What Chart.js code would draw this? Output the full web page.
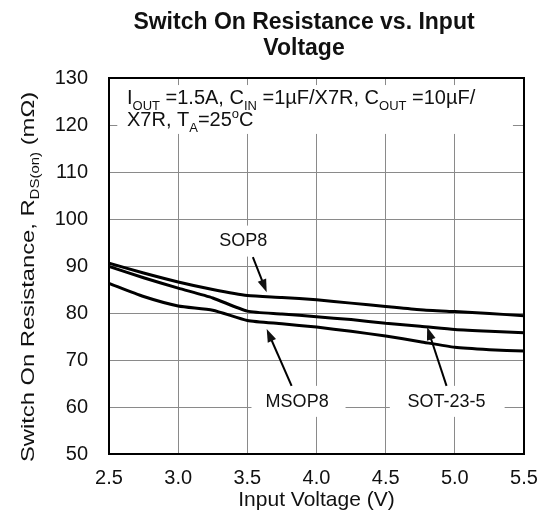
<!DOCTYPE html>
<html>
<head>
<meta charset="utf-8">
<script src="https://cdn.jsdelivr.net/npm/chart.js@4.4.0/dist/chart.umd.min.js"></script>
<style>
  body { margin: 0; background: #fff; }
</style>
</head>
<body>
<canvas id="chart" width="542" height="518"></canvas>
<script>
// values (mOhm)
const voltage = [2.5, 2.75, 3.0, 3.25, 3.5, 3.75, 4.0, 4.25, 4.5, 4.75, 5.0, 5.25, 5.5];
const sop8    = [90.6, 88.5, 86.6, 85.0, 83.7, 83.3, 82.8, 82.1, 81.4, 80.7, 80.3, 79.9, 79.4];
const sot23   = [89.9, 87.5, 85.3, 83.2, 80.4, 79.8, 79.2, 78.6, 77.8, 77.2, 76.5, 76.1, 75.8];
const msop8   = [86.3, 83.5, 81.5, 80.6, 78.4, 77.7, 77.0, 76.1, 75.1, 73.9, 72.7, 72.2, 71.9];

const titleLines = ['Switch On Resistance vs. Input', 'Voltage'];
const seriesNames = ['SOP8', 'SOT-23-5', 'MSOP8'];

// callouts, in data units: label centre, white patch, arrow tail -> tip
const callouts = [
  { text: 'SOP8',     at: [3.47, 95.3], patch: [3.19, 3.74, 98.6, 92.0], from: [3.54, 91.9], to: [3.64, 84.4] },
  { text: 'MSOP8',    at: [3.86, 61.1], patch: [3.53, 4.21, 64.5, 57.9], from: [3.82, 64.5], to: [3.64, 76.6] },
  { text: 'SOT-23-5', at: [4.94, 61.1], patch: [4.53, 5.36, 64.5, 57.9], from: [4.94, 64.5], to: [4.80, 77.0] }
];
// conditions box
const noteBox = [2.56, 5.42, 128.5, 118.1];

const SUB = 'sub', SUP = 'sup', N = 'n';
const noteLine1 = [['I', N], ['OUT', SUB], [' =1.5A, C', N], ['IN', SUB], [' =1\u00b5F/X7R, C', N], ['OUT', SUB], [' =10\u00b5F/', N]];
const noteLine2 = [['X7R, T', N], ['A', SUB], ['=25', N], ['o', SUP], ['C', N]];
const yTitle = [['Switch On Resistance, R', N], ['DS(on)', SUB], [' (m\u03a9)', N]];

function runFont(kind, size) {
  const s = kind === N ? size : Math.round(size * 0.65);
  return s + 'px "Liberation Sans", Arial, sans-serif';
}
function runsWidth(ctx, runs, size) {
  let w = 0;
  runs.forEach(r => { ctx.font = runFont(r[1], size); w += ctx.measureText(r[0]).width; });
  return w;
}
function drawRuns(ctx, runs, x, y, size) {
  ctx.textAlign = 'left';
  ctx.textBaseline = 'alphabetic';
  runs.forEach(r => {
    ctx.font = runFont(r[1], size);
    let dy = 0;
    if (r[1] === SUB) dy = size * 0.28;
    if (r[1] === SUP) dy = -size * 0.38;
    ctx.fillText(r[0], x, y + dy);
    x += ctx.measureText(r[0]).width;
  });
}
function arrow(ctx, x0, y0, x1, y1) {
  const a = Math.atan2(y1 - y0, x1 - x0);
  const len = 13, half = 4.5;
  ctx.beginPath();
  ctx.moveTo(x0, y0);
  ctx.lineTo(x1 - Math.cos(a) * len * 0.8, y1 - Math.sin(a) * len * 0.8);
  ctx.stroke();
  ctx.beginPath();
  ctx.moveTo(x1, y1);
  ctx.lineTo(x1 - Math.cos(a) * len - Math.sin(a) * half, y1 - Math.sin(a) * len + Math.cos(a) * half);
  ctx.lineTo(x1 - Math.cos(a) * len + Math.sin(a) * half, y1 - Math.sin(a) * len - Math.cos(a) * half);
  ctx.closePath();
  ctx.fill();
}

const decorations = {
  id: 'decorations',
  beforeDatasetsDraw(chart) {
    const { ctx, scales: { x, y } } = chart;
    ctx.save();
    ctx.fillStyle = '#fff';
    [noteBox].concat(callouts.map(c => c.patch)).forEach(b => {
      const x0 = x.getPixelForValue(b[0]), x1 = x.getPixelForValue(b[1]);
      const y0 = y.getPixelForValue(b[2]), y1 = y.getPixelForValue(b[3]);
      ctx.fillRect(x0, y0, x1 - x0, y1 - y0);
    });
    ctx.restore();
  },
  afterDraw(chart) {
    const { ctx, chartArea: area, scales: { x, y } } = chart;
    ctx.save();
    ctx.fillStyle = '#111';
    ctx.strokeStyle = '#000';

    // frame
    ctx.lineWidth = 2;
    ctx.strokeRect(area.left, area.top, area.right - area.left, area.bottom - area.top);

    // title
    ctx.font = 'bold 23px "Liberation Sans", Arial, sans-serif';
    ctx.textAlign = 'center';
    ctx.textBaseline = 'alphabetic';
    ctx.fillText(titleLines[0], 304, 29);
    ctx.fillText(titleLines[1], 304, 55);

    // y axis title, rotated and drawn a bit tall like the source
    ctx.save();
    ctx.translate(34, 277);
    ctx.rotate(-Math.PI / 2);
    ctx.scale(1.25, 1);
    const yw = runsWidth(ctx, yTitle, 19);
    drawRuns(ctx, yTitle, -yw / 2, 0, 19);
    ctx.restore();

    // conditions
    const nx = x.getPixelForValue(2.63);
    drawRuns(ctx, noteLine1, nx, y.getPixelForValue(124.4), 20);
    drawRuns(ctx, noteLine2, nx, y.getPixelForValue(119.8), 20);

    // callouts
    ctx.font = '18px "Liberation Sans", Arial, sans-serif';
    ctx.textAlign = 'center';
    ctx.textBaseline = 'middle';
    ctx.lineWidth = 2;
    callouts.forEach(c => {
      ctx.fillText(c.text, x.getPixelForValue(c.at[0]), y.getPixelForValue(c.at[1]));
      arrow(ctx, x.getPixelForValue(c.from[0]), y.getPixelForValue(c.from[1]),
                 x.getPixelForValue(c.to[0]), y.getPixelForValue(c.to[1]));
    });
    ctx.restore();
  }
};

function series(name, values) {
  return {
    label: name,
    data: voltage.map((v, i) => ({ x: v, y: values[i] })),
    borderColor: '#000',
    borderWidth: 3,
    pointRadius: 0,
    tension: 0.2,
    fill: false
  };
}

const tickFont = { family: '"Liberation Sans", Arial, sans-serif', size: 20 };

new Chart(document.getElementById('chart'), {
  type: 'line',
  data: {
    datasets: [series(seriesNames[0], sop8), series(seriesNames[1], sot23), series(seriesNames[2], msop8)]
  },
  options: {
    responsive: false,
    animation: false,
    devicePixelRatio: 1,
    layout: { padding: { top: 78, right: 18, left: 0, bottom: 0 } },
    plugins: { legend: { display: false }, tooltip: { enabled: false } },
    scales: {
      x: {
        type: 'linear',
        min: 2.5,
        max: 5.5,
        afterFit(scale) { scale.height = 64; scale.paddingLeft = 0; scale.paddingRight = 0; },
        ticks: { stepSize: 0.5, padding: 12, color: '#111', font: tickFont, maxRotation: 0,
                 callback: v => v.toFixed(1) },
        grid: { color: '#8a8a8a', lineWidth: 1, drawTicks: false },
        border: { display: false },
        title: { display: true, text: 'Input Voltage (V)', color: '#111',
                 font: { family: '"Liberation Sans", Arial, sans-serif', size: 21 },
                 padding: { top: 0, bottom: 5 } }
      },
      y: {
        min: 50,
        max: 130,
        afterFit(scale) { scale.width = 109; scale.paddingTop = 0; scale.paddingBottom = 0; },
        ticks: { stepSize: 10, padding: 21, color: '#111', font: tickFont },
        grid: { color: '#8a8a8a', lineWidth: 1, drawTicks: false },
        border: { display: false }
      }
    }
  },
  plugins: [decorations]
});
</script>
</body>
</html>
